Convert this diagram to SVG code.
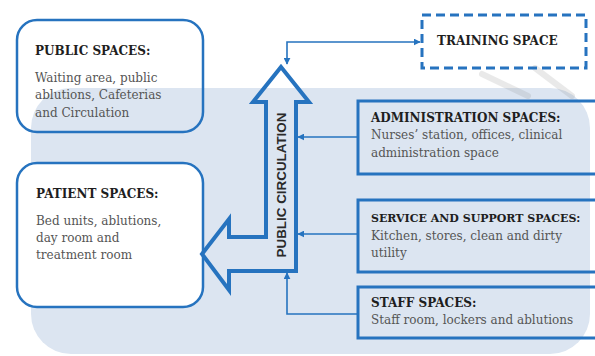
<svg xmlns="http://www.w3.org/2000/svg" width="595" height="356" viewBox="0 0 595 356">
<defs>
<style>
.box{fill:none;stroke:#2673bf;stroke-width:2.5}
.wbox{fill:#fff;stroke:#2673bf;stroke-width:2.5}
.sq{fill:none;stroke:#2673bf;stroke-width:3}
.title{font-family:"DejaVu Serif","Liberation Serif",serif;font-weight:bold;font-size:12px;fill:#1e1e1e}
.body{font-family:"DejaVu Serif","Liberation Serif",serif;font-size:12px;fill:#555}
.conn{fill:none;stroke:#2673bf;stroke-width:1.6}
</style>
<marker id="ah" viewBox="0 0 10 10" refX="9" refY="5" markerWidth="7" markerHeight="7" markerUnits="userSpaceOnUse" orient="auto-start-reverse">
<path d="M0,0 L10,5 L0,10 z" fill="#2673bf"/>
</marker>
</defs>
<rect width="595" height="356" fill="#fff"/>
<rect id="background" x="31" y="88" width="559" height="266" rx="40" fill="#dce5f1"/>
<g opacity="0.18" stroke="#8a8a8a" stroke-width="6" stroke-linecap="round">
<line x1="482" y1="74" x2="528" y2="96"/>
<line x1="535" y1="68" x2="572" y2="96"/>
</g>
<g id="public-spaces">
<rect class="box" x="17" y="20" width="186" height="112" rx="20"/>
<text class="title" x="35" y="55">PUBLIC SPACES:</text>
<text class="body" x="35" y="82">Waiting area, public</text>
<text class="body" x="35" y="99">ablutions, Cafeterias</text>
<text class="body" x="35" y="117">and Circulation</text>
</g>
<g id="patient-spaces">
<rect class="wbox" x="17" y="163" width="186" height="144" rx="20"/>
<text class="title" x="36" y="198">PATIENT SPACES:</text>
<text class="body" x="36" y="225">Bed units, ablutions,</text>
<text class="body" x="36" y="242">day room and</text>
<text class="body" x="36" y="259">treatment room</text>
</g>
<g id="training-space">
<rect x="422" y="15" width="164" height="53" fill="none" stroke="#2673bf" stroke-width="3" stroke-dasharray="9,5"/>
<text class="title" x="437" y="45">TRAINING SPACE</text>
</g>
<g id="administration-spaces">
<rect class="sq" x="358" y="101" width="260" height="73"/>
<text class="title" x="371" y="122">ADMINISTRATION SPACES:</text>
<text class="body" x="371" y="139">Nurses’ station, offices, clinical</text>
<text class="body" x="371" y="157">administration space</text>
</g>
<g id="service-support-spaces">
<rect class="sq" x="358" y="200" width="260" height="72"/>
<text class="title" x="371" y="222" style="font-size:11px">SERVICE AND SUPPORT SPACES:</text>
<text class="body" x="371" y="240">Kitchen, stores, clean and dirty</text>
<text class="body" x="371" y="257">utility</text>
</g>
<g id="staff-spaces">
<rect class="sq" x="358" y="287" width="260" height="51"/>
<text class="title" x="371" y="307">STAFF SPACES:</text>
<text class="body" x="371" y="324">Staff room, lockers and ablutions</text>
</g>
<g id="public-circulation">
<path d="M281,67 L309,102 L296,102 L296,271 L229,271 L229,290 L202,254 L229,219 L229,237 L266,237 L266,102 L253,102 Z" fill="none" stroke="#2673bf" stroke-width="4" stroke-linejoin="miter"/>
<text x="0" y="0" transform="translate(286,185) rotate(-90)" text-anchor="middle" font-family="'Liberation Sans Narrow','Liberation Sans',Arial,sans-serif" font-weight="bold" font-size="13.4" fill="#2a2a2a">PUBLIC CIRCULATION</text>
</g>
<g id="connectors">
<path class="conn" d="M287,64 V42 H420" marker-start="url(#ah)" marker-end="url(#ah)"/>
<path class="conn" d="M357,137 H298" marker-end="url(#ah)"/>
<path class="conn" d="M357,234 H298" marker-end="url(#ah)"/>
<path class="conn" d="M357,314 H287 V273" marker-end="url(#ah)"/>
</g>
</svg>
